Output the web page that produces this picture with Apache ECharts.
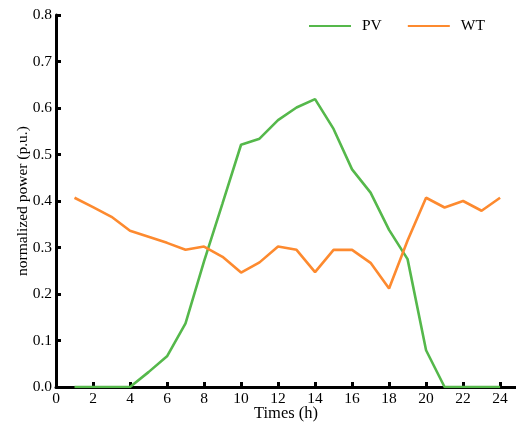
<!DOCTYPE html>
<html><head><meta charset="utf-8">
<script src="https://cdn.jsdelivr.net/npm/echarts@6/dist/echarts.min.js"></script>
<style>html,body{margin:0;padding:0;background:#fff}#c{width:516px;height:424px}</style>
</head><body><div id="c"></div>
<script>
var hours = [1,2,3,4,5,6,7,8,9,10,11,12,13,14,15,16,17,18,19,20,21,22,23,24];
var pv = [0,0,0,0,0.032,0.066,0.137,0.27,0.395,0.521,0.534,0.574,0.601,0.619,0.555,0.468,0.418,0.338,0.275,0.079,0,0,0,0];
var wt = [0.407,0.387,0.366,0.336,0.323,0.31,0.295,0.302,0.28,0.246,0.268,0.302,0.295,0.247,0.295,0.295,0.267,0.212,0.315,0.407,0.386,0.4,0.379,0.407];
var xTicks = [0,2,4,6,8,10,12,14,16,18,20,22,24];
var yTicks = [0,0.1,0.2,0.3,0.4,0.5,0.6,0.7,0.8];
var font = '"Liberation Serif", "Times New Roman", serif';
var chart = echarts.init(document.getElementById('c'), null, {renderer:'canvas'});
chart.setOption({
  animation:false,
  textStyle:{fontFamily:font},
  grid:{left:56,right:0,top:15,bottom:37,containLabel:false,outerBoundsMode:'none'},
  legend:{
    top:13,left:304,itemGap:26,itemWidth:42,itemHeight:14,
    icon:'path://M0,6 L42,6 L42,8 L0,8 Z',
    textStyle:{fontFamily:font,fontSize:15.5,color:'#000',padding:[0,0,0,6]},
    data:['PV','WT']
  },
  xAxis:{
    type:'value',min:0,max:24.86,
    name:'Times (h)',nameLocation:'middle',nameGap:18,nameMoveOverlap:false,
    nameTextStyle:{fontFamily:font,fontSize:16.5,color:'#000'},
    axisLine:{lineStyle:{color:'#000',width:3}},
    axisTick:{inside:true,length:5,lineStyle:{color:'#000',width:3},customValues:xTicks.slice(1)},
    axisLabel:{customValues:xTicks,fontFamily:font,fontSize:15.5,color:'#000',margin:4},
    splitLine:{show:false}
  },
  yAxis:{
    type:'value',min:0,max:0.8,interval:0.1,
    name:'normalized power (p.u.)',nameLocation:'middle',nameGap:25,nameMoveOverlap:false,
    nameTextStyle:{fontFamily:font,fontSize:15.5,color:'#000'},
    axisLine:{show:true,lineStyle:{color:'#000',width:3}},
    axisTick:{show:true,inside:true,length:5,lineStyle:{color:'#000',width:3}},
    axisLabel:{fontFamily:font,fontSize:15.5,color:'#000',margin:4,formatter:function(v){return v.toFixed(1);}},
    splitLine:{show:false}
  },
  series:[
    {name:'PV',type:'line',data:hours.map(function(h,i){return [h,pv[i]];}),showSymbol:false,symbol:'none',
     lineStyle:{color:'#55b84b',width:2.6},itemStyle:{color:'#55b84b'}},
    {name:'WT',type:'line',data:hours.map(function(h,i){return [h,wt[i]];}),showSymbol:false,symbol:'none',
     lineStyle:{color:'#fd8a2f',width:2.6},itemStyle:{color:'#fd8a2f'}}
  ]
});
</script></body></html>
